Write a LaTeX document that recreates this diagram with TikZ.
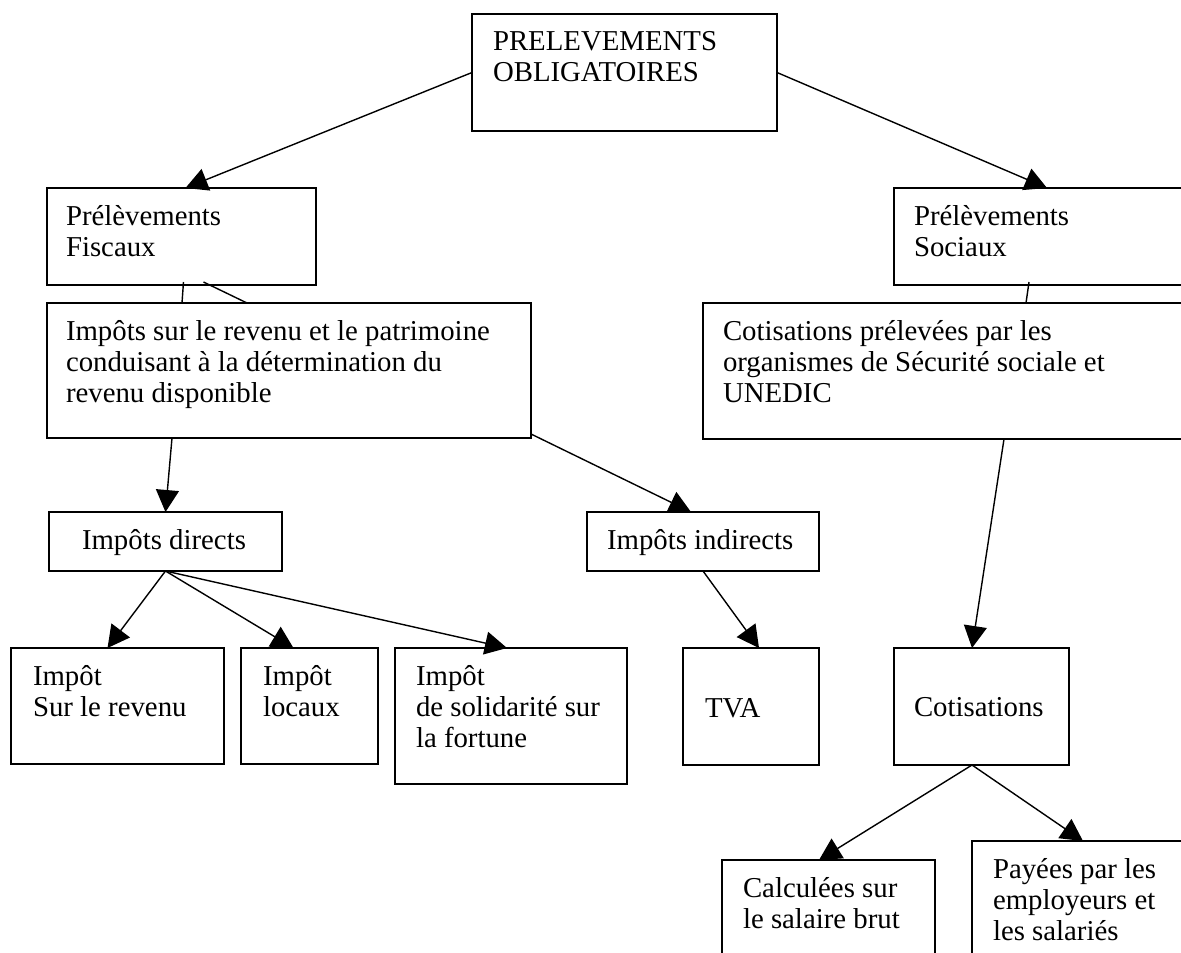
\documentclass[tikz,border=0pt]{standalone}
\usepackage{fontspec}
\setmainfont{Liberation Serif}
\usepackage{tikz}
\usetikzlibrary{arrows.meta}

% texte d'un cadre : largeur, hauteur, texte (ligne de base en option)
\newcommand{\cadre}[4][18.5pt]{\parbox[t][#3][t]{#2}{\raggedright\rule{0pt}{#1}#4}}

\begin{document}
\begin{tikzpicture}[x=0.5pt, y=-0.5pt,
    boite/.style={draw, line width=0.75pt, anchor=north west, inner ysep=0pt, outer sep=0pt,
                  font=\fontsize{14.4}{15.5}\selectfont},
    fleche/.style={line width=0.7pt, -{Triangle[length=11pt, width=11.5pt]}},
    trait/.style={line width=0.7pt}]

                % Fix the picture frame
                \useasboundingbox (0,0) rectangle (1181,952);
                \clip (0,0) rectangle (1181,952);

                % Top box
                \node[boite, inner xsep=10.5pt] (oblig) at (472,14)
                    {\cadre{131.5pt}{58.5pt}{PRELEVEMENTS\\OBLIGATOIRES}};

                % Second level
                \node[boite, inner xsep=9.5pt] (fisc) at (47,188)
                    {\cadre{115.5pt}{48.5pt}{Prélèvements\\Fiscaux}};
                \node[boite, inner xsep=10pt] (soc) at (894,188)
                    {\cadre{133pt}{48.5pt}{Prélèvements\\Sociaux}};

                % Third level
                \node[boite, inner xsep=9.5pt] (impots) at (47,303)
                    {\cadre{223pt}{67.5pt}{Impôts sur le revenu et le patrimoine\\conduisant à la détermination du\\revenu disponible}};
                \node[boite, inner xsep=10pt] (cotis) at (703,303)
                    {\cadre{228.5pt}{68pt}{Cotisations prélevées par les\\organismes de Sécurité sociale et\\UNEDIC}};

                % Direct and indirect taxes
                \node[boite, inner xsep=16.5pt] (directs) at (49,512)
                    {\cadre{83.5pt}{29.5pt}{Impôts directs}};
                \node[boite, inner xsep=10pt] (indirects) at (587,512)
                    {\cadre{96pt}{29.5pt}{Impôts indirects}};

                % Bottom row
                \node[boite, inner xsep=11pt] (revenu) at (11,648)
                    {\cadre{84.5pt}{58pt}{Impôt\\Sur le revenu}};
                \node[boite, inner xsep=11pt] (locaux) at (241,648)
                    {\cadre{46.5pt}{58pt}{Impôt\\locaux}};
                \node[boite, inner xsep=10.5pt] (fortune) at (395,648)
                    {\cadre{95pt}{68pt}{Impôt\\de solidarité sur\\la fortune}};
                \node[boite, inner xsep=11pt] (tva) at (683,648)
                    {\cadre[34.5pt]{46pt}{58.5pt}{TVA}};
                \node[boite, inner xsep=10pt] (cot) at (894,648)
                    {\cadre[34pt]{67.5pt}{58.5pt}{Cotisations}};
                \node[boite, inner xsep=10.5pt] (brut) at (722,860)
                    {\cadre{85.5pt}{60pt}{Calculées sur\\le salaire brut}};
                \node[boite, inner xsep=10.5pt] (payees) at (972,841)
                    {\cadre{93pt}{69.5pt}{Payées par les\\employeurs et\\les salariés}};

                % Arrows from the top box
                \draw[fleche] (oblig.west) -- ([xshift=2pt]fisc.north);
                \draw[fleche] (oblig.east) -- (soc.north);

                % Plain links under the second level
                \draw[trait] ([xshift=1pt,yshift=1.5pt]fisc.south) -- ([xshift=67.5pt]impots.north west);
                \draw[trait] ([xshift=11pt,yshift=1.5pt]fisc.south) -- ([xshift=100pt]impots.north west);
                \draw[trait] ([xshift=-9pt,yshift=1.5pt]soc.south) -- ([xshift=161.5pt]cotis.north west);

                % Fiscal branch
                \draw[fleche] ([xshift=62.5pt]impots.south west) -- (directs.north);
                \draw[fleche] ([yshift=2pt]impots.south east) -- ([xshift=-6pt]indirects.north);
                \foreach \cible/\dx in {revenu/-5pt, locaux/-8pt, fortune/-2pt}
                    \draw[fleche] (directs.south) -- ([xshift=\dx]\cible.north);
                \draw[fleche] (indirects.south) -- ([xshift=4pt]tva.north);

                % Social branch
                \draw[fleche] ([xshift=150.5pt]cotis.south west) -- ([xshift=-4.75pt]cot.north);
                \draw[fleche] ([xshift=-4.75pt]cot.south) -- ([xshift=-4.75pt]brut.north);
                \draw[fleche] ([xshift=-4.75pt]cot.south) -- ([xshift=-1.5pt]payees.north);
            \end{tikzpicture}
\end{document}
